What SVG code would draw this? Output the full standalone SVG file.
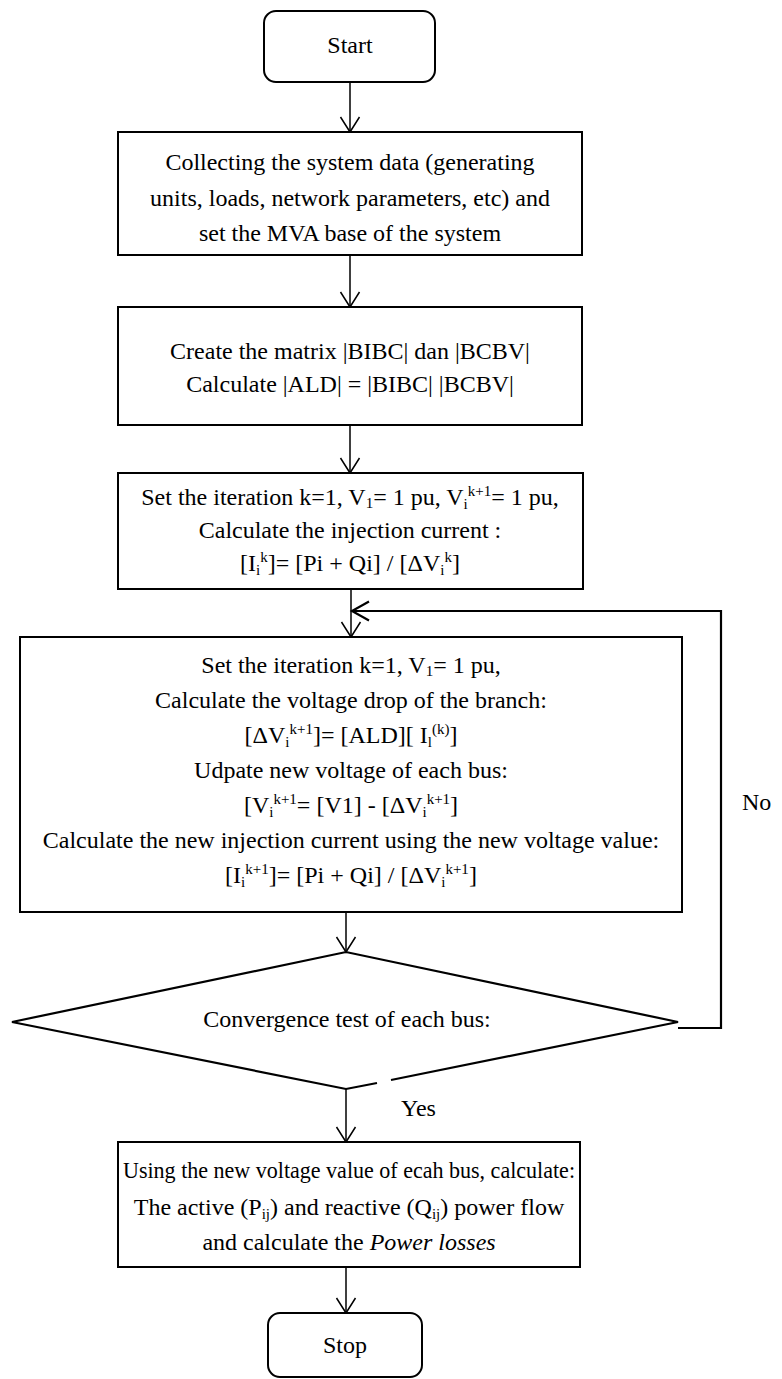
<svg xmlns="http://www.w3.org/2000/svg" width="782" height="1379" viewBox="0 0 782 1379">
<style>
.box{fill:#fff;stroke:#000;stroke-width:2}
.t{font-family:"Liberation Serif","Times New Roman",serif;font-size:24px;fill:#000;text-anchor:middle}
.s{font-size:15px}
.c{fill:none;stroke:#000;stroke-width:1.5}
.lp{fill:none;stroke:#000;stroke-width:2.2}
</style>
<defs>
<marker id="ah" markerUnits="userSpaceOnUse" markerWidth="24" markerHeight="24" viewBox="-18 -12 24 24" refX="0" refY="0" orient="auto" overflow="visible">
<path d="M-15,-9.5 L0,0 L-15,9.5" fill="none" stroke="#000" stroke-width="1.5"/>
</marker>
<marker id="ah2" markerUnits="userSpaceOnUse" markerWidth="24" markerHeight="24" viewBox="-20 -12 24 24" refX="0" refY="0" orient="auto" overflow="visible">
<path d="M-17,-9.5 L0,0 L-17,9.5" fill="none" stroke="#000" stroke-width="2.2"/>
</marker>
</defs>
<rect width="782" height="1379" fill="#fff"/>
<g id="connectors">
<path class="c" d="M350,82 V132" marker-end="url(#ah)"/>
<path class="c" d="M350,255 V307" marker-end="url(#ah)"/>
<path class="c" d="M350,425 V473" marker-end="url(#ah)"/>
<path class="c" d="M351,589 V637" marker-end="url(#ah)"/>
<path class="lp" d="M678,1028 H721 V611 H352" marker-end="url(#ah2)"/>
<path class="c" d="M346,912 V952" marker-end="url(#ah)"/>
<path class="c" d="M346,1089 V1142" marker-end="url(#ah)"/>
<path class="c" d="M346,1267 V1313" marker-end="url(#ah)"/>
<text class="t" x="742" y="810" style="text-anchor:start">No</text>
<text class="t" x="401" y="1116" style="text-anchor:start">Yes</text>
</g>
<g id="start">
<rect class="box" x="264" y="11" width="171" height="71" rx="12"/>
<text class="t" x="350" y="53">Start</text>
</g>
<g id="collect">
<rect class="box" x="118" y="132" width="464" height="123"/>
<text class="t" x="350" y="170">Collecting the system data (generating</text>
<text class="t" x="350" y="206">units, loads, network parameters, etc) and</text>
<text class="t" x="350" y="241">set the MVA base of the system</text>
</g>
<g id="matrix">
<rect class="box" x="118" y="307" width="464" height="118"/>
<text class="t" x="350" y="359">Create the matrix |BIBC| dan |BCBV|</text>
<text class="t" x="350" y="392">Calculate |ALD| = |BIBC| |BCBV|</text>
</g>
<g id="init">
<rect class="box" x="118" y="473" width="465" height="116"/>
<text class="t" x="350" y="505">Set the iteration k=1, V<tspan class="s" dy="3">1</tspan><tspan dy="-3">= 1 pu, V</tspan><tspan class="s" dy="4">i</tspan><tspan class="s" dy="-13">k+1</tspan><tspan dy="9">= 1 pu,</tspan></text>
<text class="t" x="350" y="538">Calculate the injection current :</text>
<text class="t" x="350" y="571">[I<tspan class="s" dy="4">i</tspan><tspan class="s" dy="-13">k</tspan><tspan dy="9">]= [Pi + Qi] / [ΔV</tspan><tspan class="s" dy="4">i</tspan><tspan class="s" dy="-13">k</tspan><tspan dy="9">]</tspan></text>
</g>
<g id="iterate">
<rect class="box" x="20" y="637" width="662" height="275"/>
<text class="t" x="351" y="673">Set the iteration k=1, V<tspan class="s" dy="3">1</tspan><tspan dy="-3">= 1 pu,</tspan></text>
<text class="t" x="351" y="708">Calculate the voltage drop of the branch:</text>
<text class="t" x="351" y="743">[ΔV<tspan class="s" dy="4">i</tspan><tspan class="s" dy="-13">k+1</tspan><tspan dy="9">]= [ALD][ I</tspan><tspan class="s" dy="4">l</tspan><tspan class="s" dy="-13">(k)</tspan><tspan dy="9">]</tspan></text>
<text class="t" x="351" y="778">Udpate new voltage of each bus:</text>
<text class="t" x="351" y="813">[V<tspan class="s" dy="4">i</tspan><tspan class="s" dy="-13">k+1</tspan><tspan dy="9">= [V1] - [ΔV</tspan><tspan class="s" dy="4">i</tspan><tspan class="s" dy="-13">k+1</tspan><tspan dy="9">]</tspan></text>
<text class="t" x="351" y="848">Calculate the new injection current using the new voltage value:</text>
<text class="t" x="351" y="883">[I<tspan class="s" dy="4">i</tspan><tspan class="s" dy="-13">k+1</tspan><tspan dy="9">]= [Pi + Qi] / [ΔV</tspan><tspan class="s" dy="4">i</tspan><tspan class="s" dy="-13">k+1</tspan><tspan dy="9">]</tspan></text>
</g>
<g id="convergence">
<path class="lp" d="M377,1083 L346,1089 L12,1022 L346,952 L678,1022 L391,1080"/>
<text class="t" x="347" y="1027">Convergence test of each bus:</text>
</g>
<g id="result">
<rect class="box" x="118" y="1142" width="462" height="125"/>
<text class="t" x="349" y="1178" textLength="452" lengthAdjust="spacingAndGlyphs">Using the new voltage value of ecah bus, calculate:</text>
<text class="t" x="349" y="1215">The active (P<tspan class="s" dy="4">ij</tspan><tspan dy="-4">) and reactive (Q</tspan><tspan class="s" dy="4">ij</tspan><tspan dy="-4">) power flow</tspan></text>
<text class="t" x="349" y="1250">and calculate the <tspan font-style="italic">Power losses</tspan></text>
</g>
<g id="stop">
<rect class="box" x="268" y="1313" width="154" height="64" rx="12"/>
<text class="t" x="345" y="1353">Stop</text>
</g>
</svg>
